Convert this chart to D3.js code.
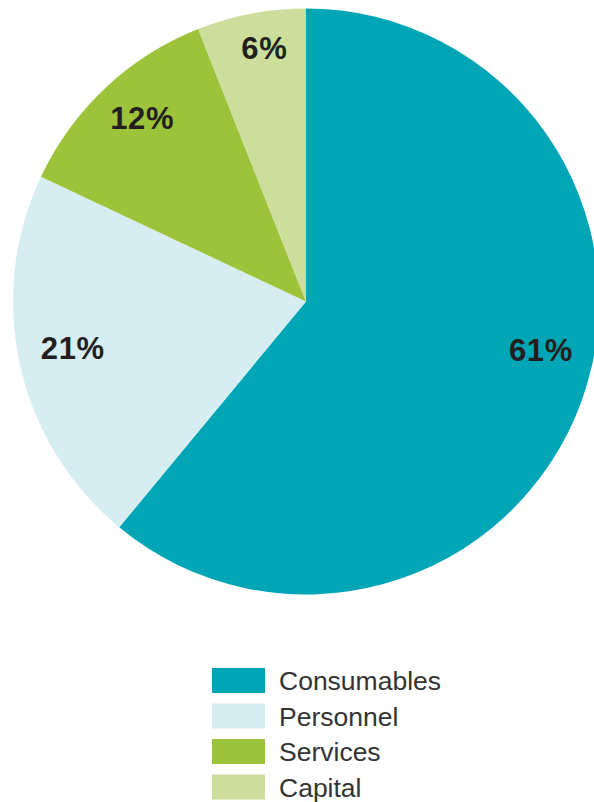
<!DOCTYPE html>
<html>
<head>
<meta charset="utf-8">
<script src="https://cdn.jsdelivr.net/npm/d3@7"></script>
<style>
  html, body { margin: 0; padding: 0; background: #fff; }
  svg { display: block; }
</style>
</head>
<body>
<svg id="chart" width="594" height="802"></svg>
<script>
// Budget breakdown by cost category (percent of total)
const categories = ["Consumables", "Personnel", "Services", "Capital"];
const shares = [61, 21, 12, 6];
const colors = ["#01a6b6", "#d6edf1", "#9dc33b", "#cddd9b"];

const svg = d3.select("#chart");
const cx = 306, cy = 301.5, R = 293;

const color = d3.scaleOrdinal().domain(categories).range(colors);

const pie = d3.pie().sort(null).value(d => d.value);
const rows = categories.map((c, i) => ({ name: c, value: shares[i] }));
const arcs = pie(rows);

const arc = d3.arc().innerRadius(0).outerRadius(R);

const g = svg.append("g").attr("transform", `translate(${cx},${cy})`);

g.selectAll("path.slice")
  .data(arcs)
  .join("path")
  .attr("class", "slice")
  .attr("d", arc)
  .attr("fill", d => color(d.data.name));

// Percentage labels placed along each slice's bisector; the large slice
// label is pulled up toward the horizontal to sit in the open area.
const labelRadius = { Consumables: 240, Personnel: 238, Services: 246, Capital: 256 };
const labelAngleShift = { Consumables: -0.14, Personnel: 0.02, Services: 0.025, Capital: 0.025 };

g.selectAll("text.pct")
  .data(arcs)
  .join("text")
  .attr("class", "pct")
  .attr("x", d => {
    const a = (d.startAngle + d.endAngle) / 2 + labelAngleShift[d.data.name];
    return labelRadius[d.data.name] * Math.sin(a);
  })
  .attr("y", d => {
    const a = (d.startAngle + d.endAngle) / 2 + labelAngleShift[d.data.name];
    return -labelRadius[d.data.name] * Math.cos(a);
  })
  .attr("text-anchor", "middle")
  .attr("dominant-baseline", "central")
  .attr("font-family", "'Liberation Sans', Arial, Helvetica, sans-serif")
  .attr("font-weight", "bold")
  .attr("font-size", 31)
  .attr("letter-spacing", 0.6)
  .attr("fill", "#231f20")
  .text(d => d.data.value + "%");

// Legend
const legend = svg.append("g").attr("transform", "translate(212,668)");
const step = 35.5;
const item = legend.selectAll("g.item")
  .data(categories)
  .join("g")
  .attr("class", "item")
  .attr("transform", (d, i) => `translate(0,${i * step})`);

item.append("rect")
  .attr("width", 53)
  .attr("height", 25)
  .attr("fill", d => color(d));

item.append("text")
  .attr("x", 67)
  .attr("y", 13)
  .attr("dominant-baseline", "central")
  .attr("font-family", "'Liberation Sans', Arial, Helvetica, sans-serif")
  .attr("font-size", 26.5)
  .attr("fill", "#333")
  .text(d => d);
</script>
</body>
</html>
